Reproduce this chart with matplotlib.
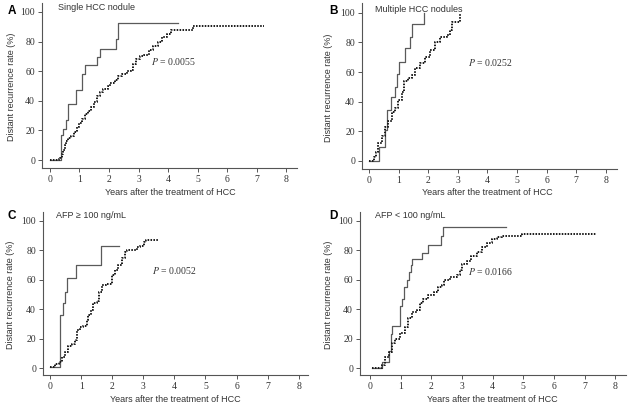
import matplotlib
matplotlib.use("Agg")
import matplotlib.pyplot as plt

# ---------------------------------------------------------------#
# Kaplan-Meier style curves (years, %)
# ---------------------------------------------------------------#

# A - single HCC nodule
a_solid_t = [0, 0.37, 0.45, 0.53, 0.62, 0.89, 1.08, 1.17, 1.60, 1.69, 2.23, 2.31, 4.35]
a_solid_v = [0, 17, 21, 27, 37.5, 47, 58, 64, 69.5, 75, 81.5, 92.5, 92.5]
a_dot_t = [0, 0.30, 0.35, 0.40, 0.45, 0.50, 0.55, 0.60, 0.70, 0.80, 0.90, 1.00, 1.10,
           1.20, 1.30, 1.40, 1.50, 1.60, 1.70, 1.80, 1.95, 2.05, 2.20, 2.30, 2.45,
           2.60, 2.75, 2.82, 2.90, 3.05, 3.20, 3.35, 3.50, 3.65, 3.80, 3.95, 4.10,
           4.85, 7.25]
a_dot_v = [0, 0.5, 1.5, 4, 7, 10, 13, 15, 16, 19, 22, 25, 28,
           31, 33, 36, 39, 43, 46, 48, 50, 52, 54, 57, 58,
           60, 61, 65, 68, 70, 71, 74, 77, 80, 83, 85, 87.5,
           90.7, 90.7]

# B - multiple HCC nodules
b_solid_t = [0, 0.35, 0.55, 0.60, 0.73, 0.88, 0.96, 1.02, 1.23, 1.39, 1.44, 1.87, 1.87]
b_solid_v = [0, 9, 21, 34, 43, 50, 59, 67, 76, 84, 92.6, 100, 100]
b_dot_t = [0, 0.18, 0.24, 0.31, 0.43, 0.54, 0.65, 0.77, 0.88, 0.99, 1.10, 1.18,
           1.33, 1.44, 1.55, 1.72, 1.89, 2.06, 2.23, 2.40, 2.62, 2.73, 2.79, 3.07, 3.07]
b_dot_v = [0, 2.7, 6, 12, 17, 23, 27, 33, 36, 41, 46.5, 54,
           56, 58, 63, 66, 70, 75, 80, 84, 85, 88.5, 94, 100, 100]

# C - AFP >= 100 ng/mL
c_solid_t = [0, 0.32, 0.41, 0.48, 0.54, 0.83, 1.64, 2.23]
c_solid_v = [1, 36, 44, 52, 61, 70, 83, 83]
c_dot_t = [0, 0.16, 0.27, 0.37, 0.48, 0.59, 0.70, 0.80, 0.88, 0.96, 1.07, 1.18,
           1.23, 1.31, 1.39, 1.50, 1.57, 1.66, 1.80, 1.98, 2.09, 2.19, 2.30, 2.41,
           2.46, 2.78, 2.89, 3.02, 3.10, 3.51]
c_dot_v = [1, 3, 4.5, 8, 11, 15, 16.5, 19, 26, 28, 29, 33,
           36, 39.5, 44, 46, 52, 56.5, 57.5, 63, 66.6, 70, 74.5, 79,
           80.5, 82.4, 83, 85.8, 87, 87]

# D - AFP < 100 ng/mL
d_solid_t = [0.05, 0.40, 0.60, 0.68, 0.72, 0.98, 1.05, 1.11, 1.19, 1.27, 1.32, 1.37,
             1.68, 1.90, 2.30, 2.38, 4.45]
d_solid_v = [0, 4, 12, 23, 28.5, 42, 47, 55, 60, 65, 70, 74,
             78.5, 83.5, 89.5, 96, 96]
d_dot_t = [0.05, 0.33, 0.38, 0.49, 0.60, 0.70, 0.82, 0.98, 1.14, 1.25, 1.36, 1.52,
           1.63, 1.74, 1.90, 2.07, 2.23, 2.34, 2.41, 2.60, 2.83, 2.93, 2.99, 3.15,
           3.30, 3.48, 3.64, 3.80, 3.97, 4.13, 4.30, 4.95, 7.37]
d_dot_v = [0.5, 0.5, 2, 8, 11, 17, 20, 24, 28, 34, 38, 39.5,
           44, 47, 50, 52, 55, 56.5, 60, 61.6, 63, 66.6, 71, 73,
           76, 79, 82, 84.7, 87.4, 89, 89.6, 91.4, 91.4]

letters = ["A", "B", "C", "D"]
titles = ["Single HCC nodule", "Multiple HCC nodules",
          "AFP \u2265 100 ng/mL", "AFP < 100 ng/mL"]
p_values = ["0.0055", "0.0252", "0.0052", "0.0166"]
x_ticks = [0, 1, 2, 3, 4, 5, 6, 7, 8]
y_ticks = [0, 20, 40, 60, 80, 100]

panels = [
    (a_solid_t, a_solid_v, a_dot_t, a_dot_v),
    (b_solid_t, b_solid_v, b_dot_t, b_dot_v),
    (c_solid_t, c_solid_v, c_dot_t, c_dot_v),
    (d_solid_t, d_solid_v, d_dot_t, d_dot_v),
]

# layout (pixels measured on the 630x403 reference)
W, H = 630, 403
boxes = [(42, 297, 168, 3), (362, 617, 169, 3),
         (43, 308, 375, 212), (360, 626, 375, 212)]
xlims = [(-0.27, 8.37), (-0.24, 8.38), (-0.23, 8.30), (-0.33, 8.35)]
ylims = [(-5.4, 106), (-5.6, 106.7), (-4.5, 106), (-4.5, 106)]
p_pos = [(3.41, 66.4), (3.35, 66.6), (3.27, 66.6), (3.2, 66)]
title_pos = [(0.27, 103), (0.2, 102.6), (0.19, 103.5), (0.16, 103.5)]
ylab_x = [-0.103, -0.113, -0.106, -0.10]
xlab_y = [-0.121, -0.114, -0.123, -0.123]
xlab_x = [0.505, 0.49, 0.50, 0.496]
letter_px = [(8, 11), (329, 11), (8, 216), (329, 216)]

plt.rcParams["mathtext.fontset"] = "stix"

sans = "Liberation Sans"
serif = "Liberation Serif"
axis_col = "#555555"
text_col = "#333333"

fig = plt.figure(figsize=(6.3, 4.03), dpi=100)

for i, (st, sv, dt, dv) in enumerate(panels):
    x0, x1, yb, yt = boxes[i]
    ax = fig.add_axes([x0 / W, (H - yb) / H, (x1 - x0) / W, (yb - yt) / H])
    ax.step(st, sv, where="post", color="#5a5a5a", lw=0.9)
    ax.step(dt, dv, where="post", color="#1a1a1a", lw=1.4,
            linestyle=(0, (0.8, 0.7)))
    ax.set_xlim(*xlims[i])
    ax.set_ylim(*ylims[i])
    ax.set_xticks(x_ticks)
    ax.set_yticks(y_ticks)
    ax.spines["top"].set_visible(False)
    ax.spines["right"].set_visible(False)
    for s in ("left", "bottom"):
        ax.spines[s].set_color(axis_col)
        ax.spines[s].set_linewidth(0.8)
    ax.tick_params(direction="out", length=3, width=0.7, color=axis_col,
                   pad=2, labelsize=7, labelcolor=text_col)
    for lab in ax.get_xticklabels() + ax.get_yticklabels():
        lab.set_family(serif)
    ax.set_xlabel("Years after the treatment of HCC", fontsize=6.5,
                  family=sans, color=text_col)
    ax.set_ylabel("Distant recurrence rate (%)", fontsize=6.5,
                  family=sans, color=text_col)
    ax.xaxis.set_label_coords(xlab_x[i], xlab_y[i])
    ax.yaxis.set_label_coords(ylab_x[i], 0.49)
    ax.text(title_pos[i][0], title_pos[i][1], titles[i], fontsize=6.5,
            family=sans, color=text_col, va="center", ha="left", clip_on=False)
    ax.text(p_pos[i][0], p_pos[i][1], "$P$ = " + p_values[i], fontsize=7,
            family=serif, color=text_col, va="center", ha="left")
    fig.text(letter_px[i][0] / W, 1 - letter_px[i][1] / H, letters[i],
             fontsize=8.5, fontweight="bold", family=sans, va="center", ha="left")

fig.savefig("out.png", dpi=100)
